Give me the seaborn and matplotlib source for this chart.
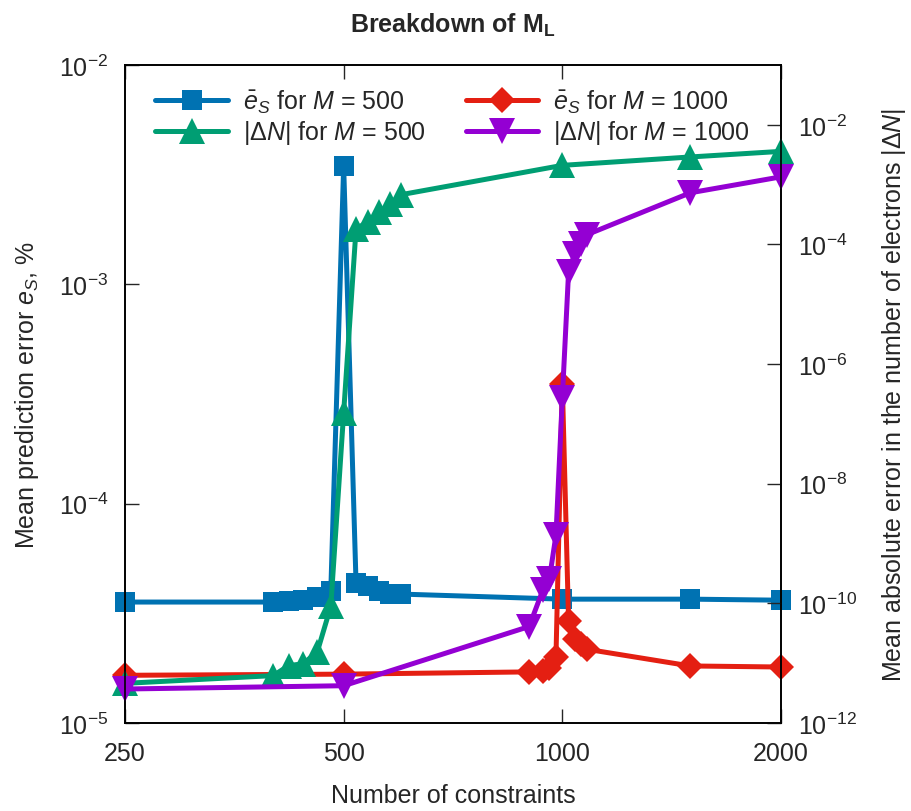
import numpy as np
import pandas as pd
import matplotlib
matplotlib.use("Agg")
import matplotlib.pyplot as plt
import matplotlib.ticker as mticker
import seaborn as sns

# ---- data ----
n_m500 = [250, 400, 420, 440, 460, 480, 500, 520, 540, 560, 580, 600, 1000, 1500, 2000]
es_m500 = [3.56e-5, 3.56e-5, 3.60e-5, 3.63e-5, 3.75e-5, 3.99e-5, 3.46e-3,
           4.35e-5, 4.21e-5, 3.99e-5, 3.87e-5, 3.87e-5, 3.67e-5, 3.67e-5, 3.63e-5]
dn_m500 = [4.6e-12, 6.2e-12, 9.1e-12, 9.8e-12, 1.56e-11, 8.9e-11, 1.55e-7,
           1.82e-4, 2.4e-4, 3.5e-4, 4.8e-4, 6.8e-4, 2.1e-3, 2.9e-3, 3.6e-3]

n_m1000 = [250, 500, 900, 940, 960, 980, 1000, 1020, 1040, 1060, 1080, 1500, 2000]
es_m1000 = [1.65e-5, 1.67e-5, 1.71e-5, 1.73e-5, 1.78e-5, 2.0e-5, 3.5e-4,
            2.92e-5, 2.42e-5, 2.29e-5, 2.17e-5, 1.82e-5, 1.80e-5]
dn_m1000 = [3.7e-12, 4.2e-12, 4.1e-11, 1.66e-10, 2.6e-10, 1.38e-9, 2.75e-7,
            3.5e-5, 6.9e-5, 1.02e-4, 1.45e-4, 7.3e-4, 1.35e-3]

x_ticks = [250, 500, 1000, 2000]
x_tick_labels = ["250", "500", "1000", "2000"]

labels = [r"$\bar{e}_S$ for $M$ = 500", r"$|\Delta N|$ for $M$ = 500",
          r"$\bar{e}_S$ for $M$ = 1000", r"$|\Delta N|$ for $M$ = 1000"]

# ---- style ----
sns.set_style("ticks")
plt.rcParams['font.family'] = ['Liberation Sans', 'DejaVu Sans']
plt.rcParams['mathtext.fontset'] = 'custom'
plt.rcParams['mathtext.rm'] = 'Liberation Sans'
plt.rcParams['mathtext.it'] = 'Liberation Sans:italic'
plt.rcParams['mathtext.bf'] = 'Liberation Sans:bold'

c_blue, c_green, c_red, c_purple = "#0072B2", "#009E73", "#E41F12", "#9400D3"
lw = 3.6

fig = plt.figure(figsize=(9.11, 8.12), dpi=100)
ax = fig.add_axes([125/911, 1-724/812, (781-125)/911, (724-66)/812])
ax2 = ax.twinx()

df1 = pd.DataFrame({"N": n_m500, "es": es_m500, "dn": dn_m500})
df2 = pd.DataFrame({"N": n_m1000, "es": es_m1000, "dn": dn_m1000})

sns.lineplot(data=df1, x="N", y="es", ax=ax, color=c_blue, lw=lw, marker="s",
             markersize=14.5, markeredgewidth=0, estimator=None, sort=False, clip_on=False)
sns.lineplot(data=df2, x="N", y="es", ax=ax, color=c_red, lw=lw, marker="D",
             markersize=13, markeredgewidth=0, estimator=None, sort=False, clip_on=False)
sns.lineplot(data=df1, x="N", y="dn", ax=ax2, color=c_green, lw=lw, marker="^",
             markersize=19, markeredgewidth=0, estimator=None, sort=False, clip_on=False)
sns.lineplot(data=df2, x="N", y="dn", ax=ax2, color=c_purple, lw=lw, marker="v",
             markersize=19, markeredgewidth=0, estimator=None, sort=False, clip_on=False)

ax.set_xscale("log", base=2)
ax.set_yscale("log")
ax2.set_yscale("log")
ax.set_xlim(250, 2000)
ax.set_ylim(1e-5, 1e-2)
ax2.set_ylim(1e-12, 1e-1)

ax.xaxis.set_major_locator(mticker.FixedLocator(x_ticks))
ax.xaxis.set_major_formatter(mticker.FixedFormatter(x_tick_labels))
ax.xaxis.set_minor_locator(mticker.NullLocator())
ax.yaxis.set_major_locator(mticker.FixedLocator([1e-5, 1e-4, 1e-3, 1e-2]))
ax.yaxis.set_major_formatter(mticker.LogFormatterSciNotation())
ax.yaxis.set_minor_locator(mticker.NullLocator())
ax2.yaxis.set_major_locator(mticker.FixedLocator([1e-12, 1e-10, 1e-8, 1e-6, 1e-4, 1e-2]))
ax2.yaxis.set_major_formatter(mticker.LogFormatterSciNotation())
ax2.yaxis.set_minor_locator(mticker.NullLocator())

fs = 18
ax.tick_params(axis="both", which="major", direction="in", length=10, width=1,
               labelsize=fs, top=True, right=False, pad=13)
ax.tick_params(axis="y", pad=12)
ax2.tick_params(axis="y", which="major", direction="in", length=10, width=1,
                labelsize=fs, pad=12)
for a in (ax, ax2):
    for s in a.spines.values():
        s.set_linewidth(1.2)
        s.set_color("black")

ax.set_xlabel("Number of constraints", fontsize=fs, labelpad=13)
ax.set_ylabel(r"Mean prediction error $e_S$, %", fontsize=fs, labelpad=13)
ax2.set_ylabel(r"Mean absolute error in the number of electrons $|\Delta N|$",
               fontsize=fs, labelpad=17)
ax.set_title(r"Breakdown of $\mathbf{M_L}$", fontsize=18, fontweight="bold", pad=24)

h = [ax.lines[0], ax2.lines[0], ax.lines[1], ax2.lines[1]]
ax2.legend(h, labels, loc="upper left", bbox_to_anchor=(0.012, 1.0), ncol=2,
           frameon=False, fontsize=fs, handlelength=2.9, columnspacing=1.6,
           labelspacing=0.15, handletextpad=0.6)

fig.savefig("out.png", dpi=100)
